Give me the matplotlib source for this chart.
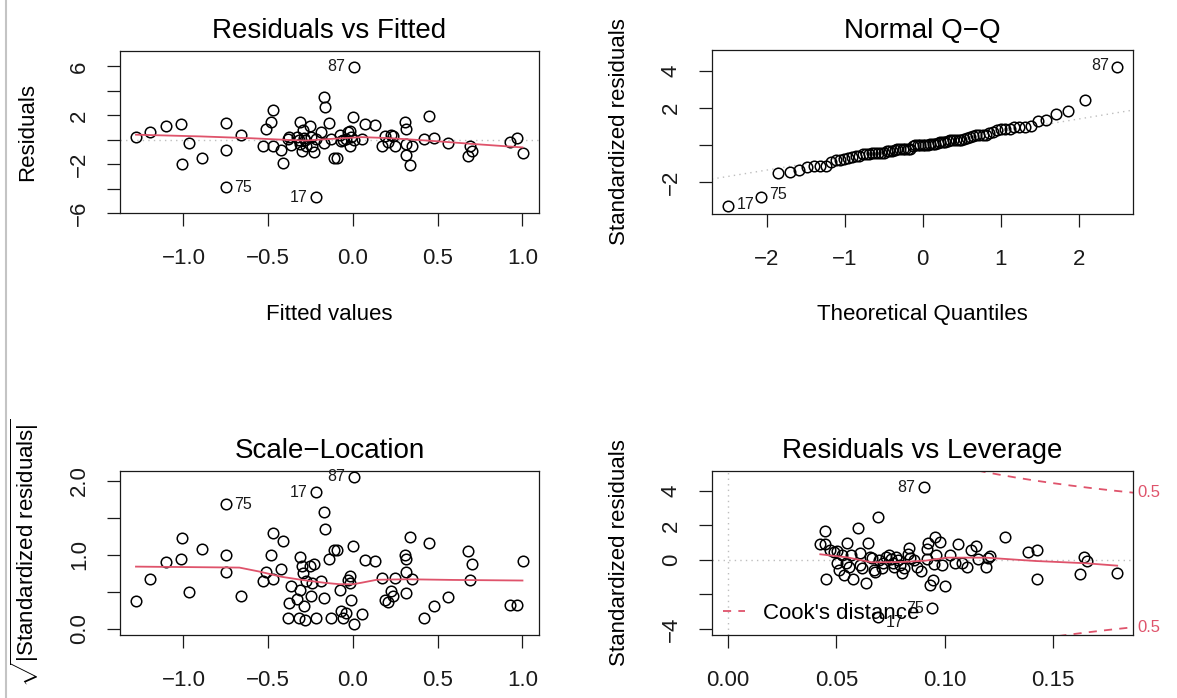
import matplotlib
matplotlib.use('Agg')
import matplotlib.pyplot as plt
import numpy as np
from statistics import NormalDist

plt.rcParams['font.family'] = ['Liberation Sans', 'DejaVu Sans']
plt.rcParams['mathtext.fontset'] = 'custom'
plt.rcParams['mathtext.rm'] = 'Liberation Sans'
plt.rcParams['mathtext.it'] = 'Liberation Sans:italic'

RED = '#DF536B'
GRAY = '#BEBEBE'
INK = '#1a1a1a'

fitted = [-1.279, -1.196, -1.102, -1.012, -1.006, -0.965, -0.889, -0.750, -0.750, -0.750,
          -0.662, -0.532, -0.512, -0.483, -0.474, -0.471, -0.422, -0.411,
          -0.377, -0.383, -0.366, -0.332, -0.320, -0.314, -0.310, -0.303, -0.296, -0.287, -0.280, -0.276,
          -0.254, -0.247, -0.242, -0.231, -0.220, -0.218, -0.186, -0.171, -0.164, -0.171,
          -0.141, -0.130, -0.114, -0.092, -0.074, -0.068, -0.060, -0.040, -0.029, -0.018,
          -0.011, -0.020, -0.002, 0.004, 0.004, 0.054,
          0.072, 0.130, 0.173, 0.189, 0.205, 0.222, 0.236, 0.247, 0.308, 0.314,
          0.314, 0.314, 0.334, 0.348, 0.420, 0.449, 0.480, 0.561, 0.678, 0.689,
          0.705, 0.925, 0.965, 1.003]
resid = [0.22, 0.65, 1.14, 1.28, -2.01, -0.27, -1.52, 1.41, -0.82, -3.89,
         0.38, -0.49, 0.90, 1.49, 2.45, -0.54, -0.82, -1.90,
         0.20, 0.03, -0.41, 0.22, -0.03, 1.44, -0.37, -0.95, 0.80, 0.13, 0.02, -0.54,
         1.09, 0.27, -0.54, -1.03, -4.70, 0.03, 0.68, 3.53, 2.66, -0.27,
         1.36, 0.03, -1.49, -1.49, 0.37, -0.08, -0.03, 0.06, 0.60, 0.76,
         0.22, -0.50, 1.85, 5.98, 0.005, 0.055,
         1.30, 1.22, -0.54, 0.33, -0.18, 0.41, 0.28, -0.54, 1.49, 0.87,
         -0.33, -1.22, -2.04, -0.54, 0.03, 1.96, 0.13, -0.27, -1.36, -0.49,
         -0.95, -0.14, 0.14, -1.09]
sqrt_std = [0.37, 0.67, 0.90, 0.94, 1.23, 0.49, 1.07, 0.99, 0.77, 1.68,
            0.44, 0.64, 0.76, 1.00, 1.29, 0.67, 0.80, 1.18,
            0.35, 0.14, 0.57, 0.40, 0.14, 0.97, 0.52, 0.84, 0.75, 0.30, 0.11, 0.64,
            0.84, 0.44, 0.62, 0.88, 1.84, 0.14, 0.64, 1.57, 1.35, 0.41,
            0.94, 0.15, 1.06, 1.06, 0.52, 0.24, 0.14, 0.21, 0.66, 0.71,
            0.39, 0.61, 1.11, 2.05, 0.063, 0.20,
            0.93, 0.92, 0.69, 0.39, 0.36, 0.51, 0.44, 0.69, 1.00, 0.77,
            0.48, 0.94, 1.24, 0.67, 0.14, 1.16, 0.30, 0.43, 1.05, 0.66,
            0.88, 0.32, 0.32, 0.91]
fit_ids = {'87': 53, '75': 9, '17': 34}

# Residuals vs Leverage panel (standardized residuals also feed the Q-Q panel)
leverage = [0.0426, 0.0449, 0.0449, 0.0453, 0.0470, 0.0488, 0.0502, 0.0505, 0.0514, 0.0526,
            0.0537, 0.0544, 0.0549, 0.0558, 0.0567, 0.0575, 0.0602, 0.0611, 0.0619, 0.0637,
            0.0646, 0.0654, 0.0663, 0.0672, 0.0677, 0.0690, 0.0690, 0.0698, 0.0716, 0.0730,
            0.0742, 0.0750, 0.0760, 0.0768, 0.0777, 0.0786, 0.0795, 0.0804, 0.0812, 0.0835,
            0.0839, 0.0856, 0.0870, 0.0891, 0.0904, 0.0918, 0.0923, 0.0930, 0.0940, 0.0944,
            0.0949, 0.0953, 0.0958, 0.0979, 0.0988, 0.1000, 0.1023, 0.1046, 0.1063, 0.1081,
            0.1102, 0.1119, 0.1146, 0.1154, 0.1190, 0.1198, 0.1207, 0.1277, 0.1382, 0.1426,
            0.1426, 0.1625, 0.1642, 0.1654, 0.1795,
            0.0610, 0.0710, 0.0830, 0.0920]
std_resid = [0.91, 0.91, 1.68, -1.12, 0.58, 0.48, -0.19, 0.54, -0.58, 0.29,
             -0.87, -0.19, 0.97, -0.39, 0.29, -1.12, 1.84, 0.39, -0.48, -1.35,
             1.00, 0.19, 0.10, -0.58, -0.68, 2.47, -3.28, 0.00, -0.19, 0.19,
             0.29, 0.04, -0.19, -0.39, 0.19, 0.00, -0.29, -0.77, -0.48, 0.72,
             0.10, 0.00, -0.39, -0.62, 4.21, 0.04, 0.97, -1.45, -2.80, -1.16,
             -0.23, 1.31, 0.29, 1.06, -0.29, -1.51, 0.29, -0.19, 0.91, -0.19,
             -0.39, 0.58, 0.83, 0.04, -0.39, 0.10, 0.23, 1.35, 0.44, 0.58,
             -1.10, -0.81, 0.15, -0.04, -0.73,
             -0.30, -0.45, 0.35, 0.65]
lev_ids = {'87': 44, '17': 26, '75': 48}

# smoother lines
smooth_fit_x = [-1.28, -0.9, -0.6, -0.4, -0.28, -0.15, 0.05, 0.2, 0.35, 0.5, 0.7, 1.0]
smooth_fit_y = [0.42, 0.28, 0.13, 0.0, -0.06, 0.06, 0.22, 0.15, 0.02, -0.12, -0.33, -0.62]
smooth_sl_x = [-1.28, -0.67, -0.55, -0.42, -0.30, -0.17, -0.08, 0.0, 0.05, 0.14, 0.32, 0.59, 1.0]
smooth_sl_y = [0.838, 0.825, 0.77, 0.70, 0.658, 0.62, 0.60, 0.60, 0.62, 0.66, 0.667, 0.658, 0.65]
smooth_lev_x = [0.0426, 0.055, 0.0663, 0.08, 0.091, 0.101, 0.119, 0.142, 0.165, 0.1795]
smooth_lev_y = [0.33, 0.15, -0.135, -0.12, -0.04, 0.135, 0.135, -0.06, -0.19, -0.33]

n_params = 7
cook_level = 0.5

FS = 16
TS = 20
IDS = 11.5
MS = dict(marker='o', ls='none', mfc='none', mec='black', ms=7.6, mew=1.1, zorder=3)


def style(ax):
    for s in ax.spines.values():
        s.set_linewidth(0.9)
        s.set_color(INK)
    ax.tick_params(length=9.5, width=0.9, labelsize=FS, colors=INK)
    ax.tick_params(axis='x', pad=15.5)
    ax.tick_params(axis='y', pad=12)


def label_pt(ax, x, y, text, side, dy=0):
    dx = -6 if side == 'left' else 6
    ax.annotate(text, (x, y), xytext=(dx, dy), textcoords='offset points',
                ha='right' if side == 'left' else 'left', va='center',
                fontsize=IDS, color=INK)


fig = plt.figure(figsize=(11.77, 6.98), dpi=100)
fig.add_artist(plt.Line2D([6 / 1177, 6 / 1177], [0, 1], color='#C4C4C4', lw=1.5,
                          transform=fig.transFigure))

# ---- Residuals vs Fitted
ax1 = fig.add_axes([0.1017, 0.6944, 0.3566, 0.2330])
style(ax1)
ax1.axhline(0, color=GRAY, lw=1, ls=(0, (1, 3)), zorder=1)
ax1.plot(fitted, resid, **MS)
ax1.plot(smooth_fit_x, smooth_fit_y, color=RED, lw=1.3, zorder=4)
ax1.set_xlim(-1.376, 1.10)
ax1.set_ylim(-5.98, 7.28)
ax1.set_xticks([-1.0, -0.5, 0.0, 0.5, 1.0], ['\u22121.0', '\u22120.5', '0.0', '0.5', '1.0'])
ax1.set_yticks([-6, -4, -2, 0, 2, 4, 6], ['\u22126', '', '\u22122', '', '2', '', '6'],
               rotation=90, va='center')
ax1.set_title('Residuals vs Fitted', fontsize=TS, pad=9)
ax1.set_xlabel('Fitted values', fontsize=FS, labelpad=25)
ax1.set_ylabel('Residuals', fontsize=FS, labelpad=22)
for name, side in [('87', 'left'), ('75', 'right'), ('17', 'left')]:
    i = fit_ids[name]
    label_pt(ax1, fitted[i], resid[i], name, side)

# ---- Normal Q-Q
n = len(std_resid)
order = np.argsort(std_resid)
sample = np.array(std_resid)[order]
theo = np.array([NormalDist().inv_cdf((k + 0.5) / n) for k in range(n)])
q1, q3 = np.percentile(std_resid, [25, 75])
z1, z3 = NormalDist().inv_cdf(0.25), NormalDist().inv_cdf(0.75)
slope = (q3 - q1) / (z3 - z1)
icpt = q1 - slope * z1

ax2 = fig.add_axes([0.6048, 0.6934, 0.3582, 0.2349])
style(ax2)
ax2.axline((0, icpt), slope=slope, color=GRAY, lw=1, ls=(0, (1, 3)), zorder=1)
ax2.plot(theo, sample, **MS)
ax2.set_xlim(-2.70, 2.70)
ax2.set_ylim(-3.70, 5.14)
ax2.set_xticks([-2, -1, 0, 1, 2], ['\u22122', '\u22121', '0', '1', '2'])
ax2.set_yticks([-2, 0, 2, 4], ['\u22122', '', '2', '4'], rotation=90, va='center')
ax2.set_title('Normal Q\u2212Q', fontsize=TS, pad=9)
ax2.set_xlabel('Theoretical Quantiles', fontsize=FS, labelpad=25)
ax2.set_ylabel('Standardized residuals', fontsize=FS, labelpad=22)
rank = {idx: k for k, idx in enumerate(order)}
for name, side, dy in [('87', 'left', 1), ('75', 'right', 2), ('17', 'right', 1)]:
    k = rank[lev_ids[name]]
    label_pt(ax2, theo[k], sample[k], name, side, dy)

# ---- Scale-Location
ax3 = fig.add_axes([0.1017, 0.0903, 0.3566, 0.2354])
style(ax3)
ax3.plot(fitted, sqrt_std, **MS)
ax3.plot(smooth_sl_x, smooth_sl_y, color=RED, lw=1.3, zorder=4)
ax3.set_xlim(-1.376, 1.10)
ax3.set_ylim(-0.086, 2.135)
ax3.set_xticks([-1.0, -0.5, 0.0, 0.5, 1.0], ['\u22121.0', '\u22120.5', '0.0', '0.5', '1.0'])
ax3.set_yticks([0, 0.5, 1.0, 1.5, 2.0], ['0.0', '', '1.0', '', '2.0'], rotation=90, va='center')
ax3.set_title('Scale\u2212Location', fontsize=TS, pad=9)
ax3.set_ylabel(r'$\sqrt{|\mathrm{Standardized\ residuals}|}$', fontsize=FS, labelpad=20)
for name, side in [('87', 'left'), ('75', 'right'), ('17', 'left')]:
    i = fit_ids[name]
    label_pt(ax3, fitted[i], sqrt_std[i], name, side)

# ---- Residuals vs Leverage
ax4 = fig.add_axes([0.6048, 0.0903, 0.3582, 0.2354])
style(ax4)
ax4.axhline(0, color=GRAY, lw=1, ls=(0, (1, 3)), zorder=1)
ax4.axvline(0, color=GRAY, lw=1, ls=(0, (1, 3)), zorder=1)
ax4.plot(leverage, std_resid, **MS)
ax4.plot(smooth_lev_x, smooth_lev_y, color=RED, lw=1.3, zorder=4)
hh = np.linspace(0.002, 0.19, 200)
cook = np.sqrt(cook_level * n_params * (1 - hh) / hh)
ax4.plot(hh, cook, color=RED, lw=1.3, ls=(0, (4.5, 4)), zorder=2, label="Cook's distance")
ax4.plot(hh, -cook, color=RED, lw=1.3, ls=(0, (4.5, 4)), zorder=2)
ax4.set_xlim(-0.0074, 0.187)
ax4.set_ylim(-4.35, 5.18)
ax4.set_xticks([0.0, 0.05, 0.10, 0.15], ['0.00', '0.05', '0.10', '0.15'])
ax4.set_yticks([-4, -2, 0, 2, 4], ['\u22124', '', '0', '2', '4'], rotation=90, va='center')
ax4.set_title('Residuals vs Leverage', fontsize=TS, pad=9)
ax4.set_ylabel('Standardized residuals', fontsize=FS, labelpad=22)
edge_y = np.sqrt(cook_level * n_params * (1 - 0.187) / 0.187)
for yy in (edge_y, -edge_y):
    ax4.annotate('0.5', (1.0, yy), xycoords=('axes fraction', 'data'), xytext=(3, 0),
                 textcoords='offset points', ha='left', va='center', fontsize=12,
                 color=RED, annotation_clip=False)
label_pt(ax4, leverage[lev_ids['87']], std_resid[lev_ids['87']], '87', 'left')
label_pt(ax4, leverage[lev_ids['17']], std_resid[lev_ids['17']], '17', 'right', -4)
label_pt(ax4, leverage[lev_ids['75']], std_resid[lev_ids['75']], '75', 'left')
ax4.legend(loc='lower left', frameon=False, fontsize=FS, handlelength=1.0,
           handletextpad=0.8, borderpad=0, borderaxespad=0.5)

fig.savefig('out.png', dpi=100)
